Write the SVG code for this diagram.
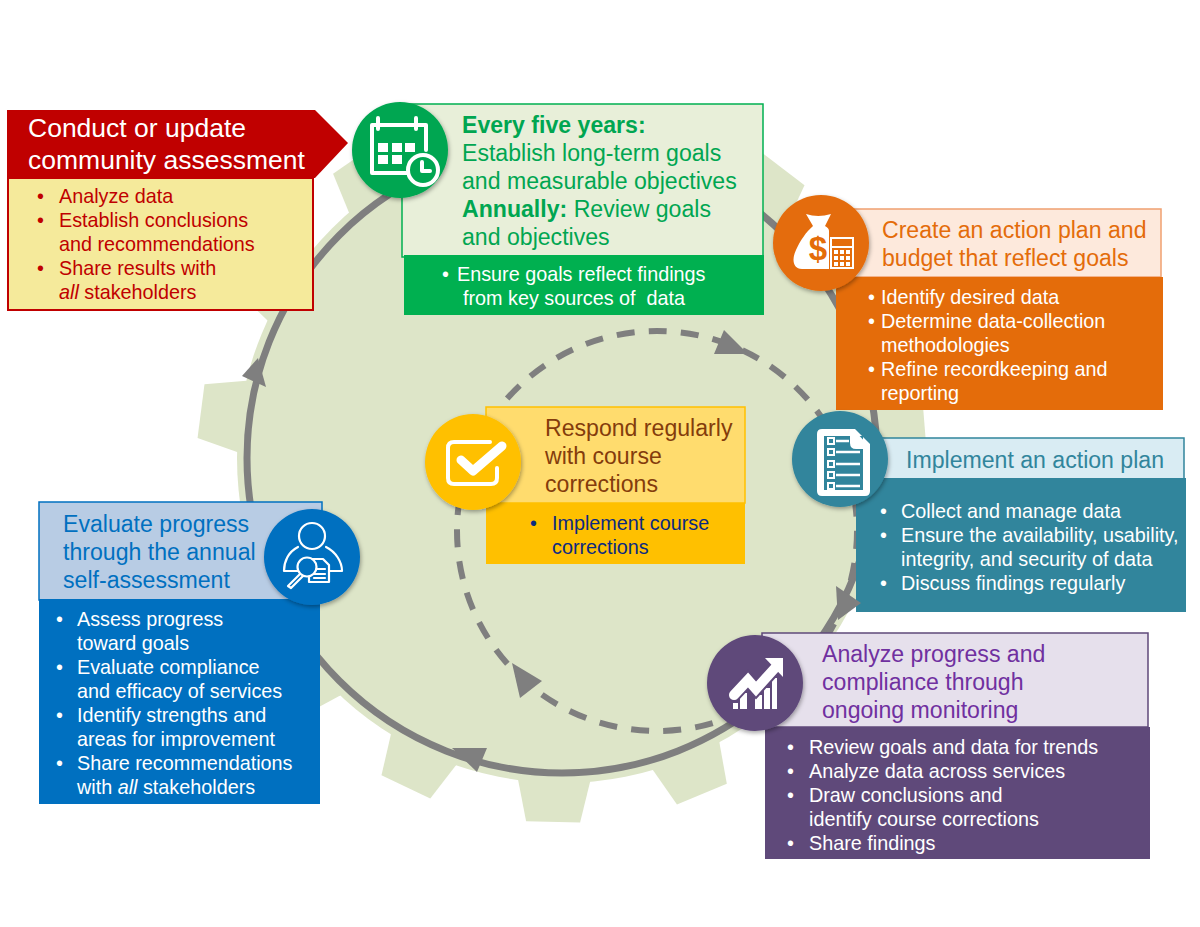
<svg xmlns="http://www.w3.org/2000/svg" xmlns:xlink="http://www.w3.org/1999/xlink" width="1200" height="927" viewBox="0 0 1200 927">
<defs>
<filter id="sh" x="-20%" y="-20%" width="140%" height="140%"><feDropShadow dx="1" dy="2" stdDeviation="2" flood-color="#000" flood-opacity=".35"/></filter>
<polygon id="tooth" points="318,-36 323,-36 364,-27 364,27 323,36 318,36" fill="#dde5c8"/>
</defs>
<style>
text{font-family:"Liberation Sans",Arial,sans-serif;font-size:19.8px}
.h{font-size:23.1px}
.t{font-size:26.5px}
.w{fill:#fff}
.ic{fill:none;stroke:#fff;stroke-width:4;stroke-linejoin:round;stroke-linecap:round}
.f{fill:#fff}
.c{filter:url(#sh)}
.a{fill:#7f7f7f}
</style>
<rect width="1200" height="927" fill="#fff"/>
<g id="gear">
<circle cx="562" cy="458" r="325" fill="#dde5c8"/>
<g transform="translate(562,458)">
<use href="#tooth" transform="rotate(67.4)"/><use href="#tooth" transform="rotate(91.4)"/><use href="#tooth" transform="rotate(115.4)"/><use href="#tooth" transform="rotate(139.4)"/><use href="#tooth" transform="rotate(163.4)"/><use href="#tooth" transform="rotate(187.4)"/><use href="#tooth" transform="rotate(211.4)"/><use href="#tooth" transform="rotate(235.4)"/><use href="#tooth" transform="rotate(307.4)"/><use href="#tooth" transform="rotate(331.4)"/><use href="#tooth" transform="rotate(355.4)"/><use href="#tooth" transform="rotate(19.4)"/><use href="#tooth" transform="rotate(43.4)"/>
</g>
</g>
<g id="connectors">
<circle cx="562" cy="458" r="315" fill="none" stroke="#7f7f7f" stroke-width="7"/>
<circle cx="657" cy="531" r="200" fill="none" stroke="#7f7f7f" stroke-width="6" stroke-dasharray="18 14.2"/>
<polygon class="a" points="242,376 266,387 258,358"/>
<polygon class="a" points="452,748 487,748 477,772"/>
<polygon class="a" points="724,330 748,354 714,354"/>
<polygon class="a" points="512,663 542,681 520,698"/>
</g>
<g id="node-assess">
<rect x="8" y="178" width="305" height="132" fill="#f5ea9b" stroke="#c00000" stroke-width="2"/>
<polygon points="7,110 315,110 348,143 315,178 7,178" fill="#c00000"/>
<text class="w t" x="28" y="137">Conduct or update</text>
<text class="w t" x="28" y="169">community assessment</text>
<g fill="#c00000"><text x="37" y="203">•</text><text x="59" y="203">Analyze data</text>
<text x="37" y="227">•</text><text x="59" y="227">Establish conclusions</text><text x="59" y="251">and recommendations</text>
<text x="37" y="275">•</text><text x="59" y="275">Share results with</text><text x="59" y="299"><tspan font-style="italic">all</tspan> stakeholders</text></g>
</g>
<g id="node-goals">
<rect x="402" y="104" width="361" height="153" fill="#e8efd9" stroke="#00b050" stroke-width="1.5"/>
<rect x="404" y="255" width="360" height="60" fill="#00b050"/>
<g fill="#00a651"><text class="h" x="462" y="133" font-weight="bold">Every five years:</text>
<text class="h" x="462" y="161">Establish long-term goals</text>
<text class="h" x="462" y="189">and measurable objectives</text>
<text class="h" x="462" y="217"><tspan font-weight="bold">Annually:</tspan> Review goals</text>
<text class="h" x="462" y="245">and objectives</text></g>
<text class="w" x="442" y="281">•</text><text class="w" x="457" y="281">Ensure goals reflect findings</text>
<text class="w" x="463" y="305" style="white-space:pre">from key sources of  data</text>
<circle class="c" cx="400" cy="150" r="48" fill="#00a651"/>
<path class="ic" d="M410,173H372V125H426V150M378,118V129M416,118V129"/>
<path class="f" d="M378,143h10v9h-10zM392,143h10v9h-10zM405,143h10v9h-10zM378,155h10v9h-10zM392,155h10v9h-10z"/>
<circle cx="423" cy="170" r="15" fill="#00a651" stroke="#fff" stroke-width="4"/>
<path class="ic" d="M422,162V171H430"/>
</g>
<g id="node-plan">
<rect x="845" y="209" width="316" height="68" fill="#fde9dc" stroke="#f0a070" stroke-width="1.5"/>
<rect x="836" y="277" width="327" height="133" fill="#e46c0a"/>
<text class="h" x="882" y="238" fill="#e46c0a">Create an action plan and</text>
<text class="h" x="882" y="266" fill="#e46c0a">budget that reflect goals</text>
<g class="w"><text x="868" y="304">•</text><text x="881" y="304">Identify desired data</text>
<text x="868" y="328">•</text><text x="881" y="328">Determine data-collection</text><text x="881" y="352">methodologies</text>
<text x="868" y="376">•</text><text x="881" y="376">Refine recordkeeping and</text><text x="881" y="400">reporting</text></g>
<circle class="c" cx="821" cy="243" r="48" fill="#e46c0a"/>
<path class="f" d="M806,214Q818,218 831,214L825,226C828,228 829,229 829,231V269H802C792,269 792,258 796,250C800,241 806,232 813,226Z"/>
<text x="818" y="260" text-anchor="middle" font-weight="bold" style="font-size:33px" fill="#e46c0a">$</text>
<rect x="831" y="238" width="22" height="30" fill="#e46c0a" stroke="#fff" stroke-width="2"/>
<path class="f" d="M834,250h4v4h-4zM840,250h4v4h-4zM846,250h4v4h-4zM834,256h4v4h-4zM840,256h4v4h-4zM846,256h4v4h-4zM834,262h4v4h-4zM840,262h4v4h-4zM846,262h4v4h-4z"/>
<rect x="831" y="246" width="22" height="2" fill="#fff"/>
</g>
<g id="node-implement">
<rect x="860" y="438" width="324" height="60" fill="#d9ecf3" stroke="#31859c" stroke-width="1.5"/>
<rect x="856" y="478" width="330" height="134" fill="#31859c"/>
<text class="h" x="906" y="468" fill="#31859c">Implement an action plan</text>
<g class="w"><text x="880" y="518">•</text><text x="901" y="518">Collect and manage data</text>
<text x="880" y="542">•</text><text x="901" y="542">Ensure the availability, usability,</text><text x="901" y="566">integrity, and security of data</text>
<text x="880" y="590">•</text><text x="901" y="590">Discuss findings regularly</text></g>
<circle class="c" cx="840" cy="459" r="48" fill="#31859c"/>
<path class="f" d="M822,429H855L870,444V491Q870,496 865,496H822Q817,496 817,491V434Q817,429 822,429Z"/>
<rect x="824" y="436" width="39" height="54" fill="#31859c"/>
<path class="f" d="M850,431H855L868,445V449H856Q850,449 850,443Z"/>
<path d="M836,441H849M836,452H860M836,464H860M836,475H860M836,486H860" stroke="#fff" stroke-width="2.5"/>
<path d="M828,438h6v6h-6zM828,449h6v6h-6zM828,461h6v6h-6zM828,472h6v6h-6zM828,483h6v6h-6z" fill="none" stroke="#fff" stroke-width="2"/>
</g>
<g id="node-analyze">
<rect x="762" y="633" width="386" height="94" fill="#e6e0ec" stroke="#5f497a" stroke-width="1.5"/>
<rect x="765" y="727" width="385" height="132" fill="#5f497a"/>
<text class="h" x="822" y="662" fill="#7030a0">Analyze progress and</text>
<text class="h" x="822" y="690" fill="#7030a0">compliance through</text>
<text class="h" x="822" y="718" fill="#7030a0">ongoing monitoring</text>
<g class="w"><text x="787" y="754">•</text><text x="809" y="754">Review goals and data for trends</text>
<text x="787" y="778">•</text><text x="809" y="778">Analyze data across services</text>
<text x="787" y="802">•</text><text x="809" y="802">Draw conclusions and</text><text x="809" y="826">identify course corrections</text>
<text x="787" y="850">•</text><text x="809" y="850">Share findings</text></g>
<circle class="c" cx="755" cy="683" r="48" fill="#5f497a"/>
<path class="f" d="M733,703h5v6h-5zM740,693h7v16h-7zM755,695h7v14h-7zM764,688h6v21h-6zM772,678h5v31h-5z"/>
<path d="M734,695L748,680L756,689L775,668" fill="none" stroke="#5f497a" stroke-width="14" stroke-linecap="round"/>
<path d="M734,695L748,680L756,689L775,668" fill="none" stroke="#fff" stroke-width="10" stroke-linecap="round"/>
<polygon class="f" points="765,658 783,658 783,677"/>
</g>
<g id="node-respond">
<rect x="486" y="407" width="259" height="96" fill="#ffdc6e" stroke="#ffc000" stroke-width="1.5"/>
<rect x="486" y="503" width="259" height="61" fill="#ffc000"/>
<text class="h" x="545" y="436" fill="#843c0c">Respond regularly</text>
<text class="h" x="545" y="464" fill="#843c0c">with course</text>
<text class="h" x="545" y="492" fill="#843c0c">corrections</text>
<text x="530" y="530" fill="#0b2a80">•</text><text x="552" y="530" fill="#0b2a80">Implement course</text>
<text x="552" y="554" fill="#0b2a80">corrections</text>
<circle class="c" cx="473" cy="462" r="48" fill="#ffc000"/>
<path class="ic" d="M490,442H454Q448,442 448,448V478Q448,484 454,484H491Q497,484 497,478V468" stroke-width="3.5"/>
<path d="M461,460L473,471L502,446" fill="none" stroke="#fff" stroke-width="9" stroke-linecap="round" stroke-linejoin="round"/>
</g>
<g id="node-evaluate">
<rect x="39" y="502" width="283" height="98" fill="#b8cce4" stroke="#0070c0" stroke-width="1.5"/>
<rect x="39" y="599" width="281" height="205" fill="#0070c0"/>
<text class="h" x="63" y="532" fill="#0070c0">Evaluate progress</text>
<text class="h" x="63" y="560" fill="#0070c0">through the annual</text>
<text class="h" x="63" y="588" fill="#0070c0">self-assessment</text>
<g class="w"><text x="56" y="626">•</text><text x="77" y="626">Assess progress</text><text x="77" y="650">toward goals</text>
<text x="56" y="674">•</text><text x="77" y="674">Evaluate compliance</text><text x="77" y="698">and efficacy of services</text>
<text x="56" y="722">•</text><text x="77" y="722">Identify strengths and</text><text x="77" y="746">areas for improvement</text>
<text x="56" y="770">•</text><text x="77" y="770">Share recommendations</text><text x="77" y="794">with <tspan font-style="italic">all</tspan> stakeholders</text></g>
<circle class="c" cx="312" cy="557" r="48" fill="#0070c0"/>
<g fill="none" stroke="#fff" stroke-width="2.2" stroke-linejoin="round" stroke-linecap="round">
<circle cx="312" cy="536" r="13"/>
<path d="M298,547C288,552 284,562 284,571H298M326,547C336,552 342,562 342,571H330"/>
<path d="M311,559H323L329,565V582H309V574"/>
<path d="M314,569H325M314,574H325M314,578H325"/>
<circle cx="307" cy="567" r="9.5" fill="#0070c0"/>
<path d="M300,574L288,586L291,588L303,576"/>
</g>
</g>
<g id="connector-arrow-top">
<polygon class="a" points="836,586 861,603 838,620"/>
</g>
</svg>
